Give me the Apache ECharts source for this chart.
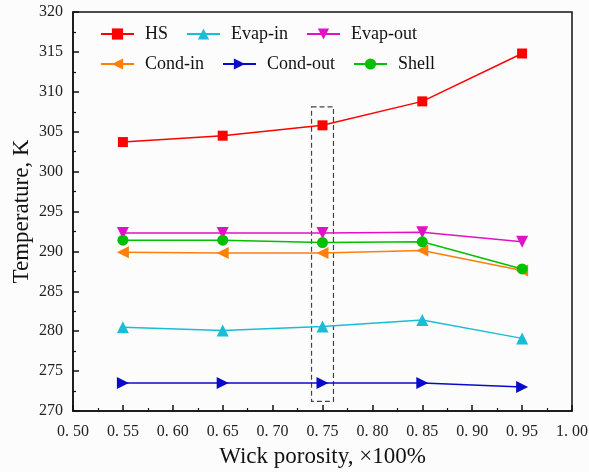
<!DOCTYPE html>
<html>
<head>
<meta charset="utf-8">
<script src="https://cdn.jsdelivr.net/npm/echarts@6/dist/echarts.min.js"></script>
<style>
html,body{margin:0;padding:0;background:#fcfcfc;}
#c{width:589px;height:472px;}
</style>
</head>
<body>
<div id="c"></div>
<script>
var porosity = [0.55, 0.65, 0.75, 0.85, 0.95];
var seriesNames = ['HS', 'Evap-in', 'Evap-out', 'Cond-in', 'Cond-out', 'Shell'];
var hs = [303.7, 304.5, 305.8, 308.8, 314.8];
var evapIn = [280.5, 280.1, 280.6, 281.4, 279.1];
var evapOut = [292.3, 292.3, 292.3, 292.4, 291.2];
var condIn = [289.9, 289.8, 289.8, 290.1, 287.6];
var condOut = [273.5, 273.5, 273.5, 273.5, 273.0];
var shell = [291.4, 291.4, 291.1, 291.2, 287.8];
var highlightBox = [[0.739, 308.1], [0.761, 271.2]];
var xTicks = [0.50, 1.00, 0.05];
var yTicks = [270, 320, 5];

var colors = ['#ff0000', '#19bdd6', '#e011c6', '#ff7f0a', '#0a0acc', '#00c000'];
var symbols = ['rect', 'triangle', 'triangle', 'triangle', 'triangle', 'circle'];
var rotates = [0, 0, 180, 90, -90, 0];
var sizes = [10, 12, 12, 12, 12, 11];
var values = [hs, evapIn, evapOut, condIn, condOut, shell];

function pairs(arr) { return porosity.map(function (x, i) { return [x, arr[i]]; }); }

var series = seriesNames.map(function (n, i) {
  var s = {
    name: n, type: 'line', data: pairs(values[i]),
    symbol: symbols[i], symbolRotate: rotates[i], symbolSize: sizes[i],
    lineStyle: { color: colors[i], width: 1.5 },
    itemStyle: { color: colors[i] },
    z: 3
  };
  if (i === 0) {
    s.markArea = {
      silent: true,
      itemStyle: { color: 'rgba(0,0,0,0)', borderColor: '#444', borderWidth: 1.2, borderType: [5, 3] },
      data: [[{ coord: highlightBox[0] }, { coord: highlightBox[1] }]]
    };
  }
  return s;
});

var legendText = { fontFamily: 'Liberation Serif', fontSize: 18, color: '#111', padding: [0, 0, 0, 6] };

var option = {
  backgroundColor: '#fcfcfc',
  animation: false,
  legend: [
    { data: seriesNames.slice(0, 3), left: 100, top: 25, padding: 0, itemWidth: 33, itemHeight: 14, itemGap: 18, textStyle: legendText },
    { data: seriesNames.slice(3), left: 100, top: 55, padding: 0, itemWidth: 33, itemHeight: 14, itemGap: 18, textStyle: legendText }
  ],
  grid: { left: 73, right: 17, top: 12, bottom: 61, outerBoundsMode: 'none', containLabel: false, show: true, borderColor: '#111', borderWidth: 1.5, backgroundColor: 'transparent' },
  xAxis: {
    type: 'value', min: xTicks[0], max: xTicks[1], interval: xTicks[2],
    name: 'Wick porosity, \u00d7100%', nameLocation: 'middle', nameGap: 34, nameMoveOverlap: false,
    nameTextStyle: { fontFamily: 'Liberation Serif', fontSize: 23, color: '#111' },
    axisLine: { lineStyle: { color: '#111', width: 1.5 } },
    axisTick: { inside: true, length: 6, lineStyle: { color: '#111', width: 1.5 } },
    minorTick: { show: true, splitNumber: 2, length: 3, lineStyle: { color: '#111', width: 1.2 } },
    splitLine: { show: false },
    axisLabel: {
      fontFamily: 'Liberation Serif', fontSize: 16, color: '#222', margin: 13,
      formatter: function (v) { return v.toFixed(2).replace('.', '. '); }
    }
  },
  yAxis: {
    type: 'value', min: yTicks[0], max: yTicks[1], interval: yTicks[2],
    name: 'Temperature, K', nameLocation: 'middle', nameGap: 40, nameMoveOverlap: false,
    nameTextStyle: { fontFamily: 'Liberation Serif', fontSize: 23, color: '#111' },
    axisLine: { show: true, lineStyle: { color: '#111', width: 1.5 } },
    axisTick: { inside: true, length: 6, lineStyle: { color: '#111', width: 1.5 } },
    minorTick: { show: true, splitNumber: 2, length: 3, lineStyle: { color: '#111', width: 1.2 } },
    splitLine: { show: false },
    axisLabel: { fontFamily: 'Liberation Serif', fontSize: 16, color: '#222', margin: 10 }
  },
  series: series
};

var chart = echarts.init(document.getElementById('c'), null, { renderer: 'canvas' });
chart.setOption(option);
</script>
</body>
</html>
